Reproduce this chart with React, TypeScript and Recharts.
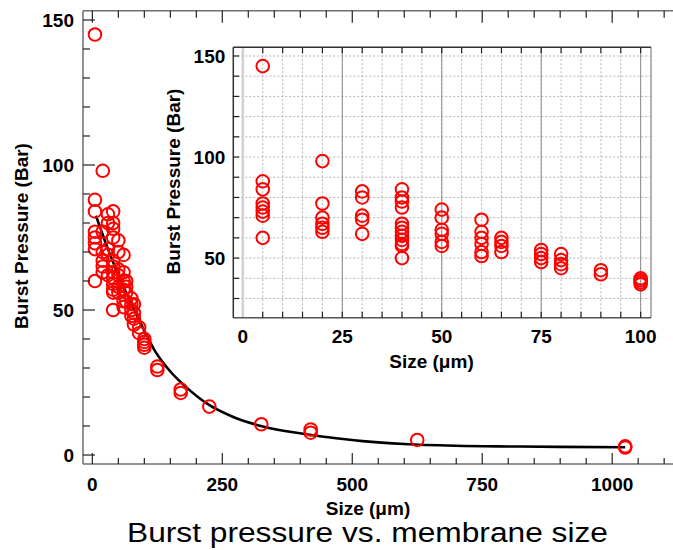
import React from 'react';
import {
  ComposedChart,
  ScatterChart,
  Scatter,
  Line,
  XAxis,
  YAxis,
  CartesianGrid,
  ReferenceLine,
} from 'recharts';

// ---------- data ----------
const pressureAt5 = [145, 88, 84, 77, 75, 73, 71, 60];
const pressureAt20 = [98, 77, 70, 67, 65, 63];
const pressureAt30 = [83, 80, 71, 69, 62];
const pressureAt40 = [84, 80, 78, 75, 67, 65, 63, 61, 59, 57, 56, 50];
const pressureAt50 = [74, 70, 64, 62, 58, 56];
const pressureAt60 = [69, 63, 60, 57, 53, 51];
const pressureAt65 = [60, 58, 56, 53];
const pressureAt75 = [54, 52, 50, 48];
const pressureAt80 = [52, 49, 47, 45];
const pressureAt90 = [44, 42];
const pressureAt100 = [40, 39, 38, 37];

const smallSizes = [5, 20, 30, 40, 50, 60, 65, 75, 80, 90, 100];
const smallPressures = [
  pressureAt5, pressureAt20, pressureAt30, pressureAt40, pressureAt50, pressureAt60,
  pressureAt65, pressureAt75, pressureAt80, pressureAt90, pressureAt100,
];

const largeSizes = [125, 125, 170, 170, 225, 325, 420, 420, 625, 1025, 1025];
const largePressures = [30.5, 29.3, 22.6, 21.4, 16.7, 10.6, 8.8, 7.7, 5.2, 3.0, 2.6];

const fitSizes = [7, 30, 60, 90, 120, 150, 180, 220, 270, 320, 380, 450, 520, 600, 700, 800, 900, 1025];
const fitPressures = [82.5, 71, 58, 46.5, 36, 28.8, 23.5, 17.8, 13.2, 10.2, 8, 6.2, 4.8, 3.8, 3.2, 2.95, 2.8, 2.7];

const mainXTicks = [0, 50, 100, 150, 200, 250, 300, 350, 400, 450, 500, 550, 600, 650, 700, 750, 800, 850, 900, 950, 1000, 1050, 1100];
const mainYTicks = [0, 10, 20, 30, 40, 50, 60, 70, 80, 90, 100, 110, 120, 130, 140, 150];
const insetXTicks = [0, 5, 10, 15, 20, 25, 30, 35, 40, 45, 50, 55, 60, 65, 70, 75, 80, 85, 90, 95, 100];
const insetYTicks = [30, 40, 50, 60, 70, 80, 90, 100, 110, 120, 130, 140, 150];
const insetMajorX = [25, 50, 75, 100];

// ---------- tables ----------
const smallPoints = smallSizes.flatMap((s, i) => smallPressures[i].map((p) => ({ x: s, y: p })));
const largePoints = largeSizes.map((s, i) => ({ x: s, y: largePressures[i] }));
const mainPoints = [...smallPoints, ...largePoints];
const fitPoints = fitSizes.map((s, i) => ({ x: s, y: fitPressures[i] }));

const FONT = "'Liberation Sans', Arial, Helvetica, sans-serif";
const RED = '#ff0000';

const Ring = (props: any) => {
  const { cx, cy } = props;
  if (cx == null || cy == null) return null;
  return <circle cx={cx} cy={cy} r={6.3} fill="none" stroke={RED} strokeWidth={2} />;
};

// ---------- tick renderers ----------
const MainBottomTick = (props: any) => {
  const { x, y, payload } = props;
  const v = payload.value;
  const major = v % 250 === 0;
  return (
    <g>
      <line x1={x} x2={x} y1={y} y2={y - (major ? 11 : 6)} stroke="#222" strokeWidth={1.2} />
      {major && (
        <text x={x} y={y + 26.5} textAnchor="middle" fontFamily={FONT} fontWeight="bold" fontSize={19} fill="#000">
          {v}
        </text>
      )}
    </g>
  );
};

const MainTopTick = (props: any) => {
  const { x, y, payload } = props;
  const v = payload.value;
  const major = v % 250 === 0;
  return <line x1={x} x2={x} y1={y} y2={y + (major ? 12 : 7)} stroke="#222" strokeWidth={1.2} />;
};

const MainLeftTick = (props: any) => {
  const { x, y, payload } = props;
  const v = payload.value;
  const major = v % 50 === 0;
  return (
    <g>
      <line x1={x} x2={x + (major ? 12 : 7)} y1={y} y2={y} stroke="#222" strokeWidth={1.2} />
      {major && (
        <text x={x - 9} y={y} dy="0.36em" textAnchor="end" fontFamily={FONT} fontWeight="bold" fontSize={19} fill="#000">
          {v}
        </text>
      )}
    </g>
  );
};

const InsetBottomTick = (props: any) => {
  const { x, y, payload } = props;
  const v = payload.value;
  const major = v % 25 === 0;
  return (
    <g>
      {v !== 0 && <line x1={x} x2={x} y1={y} y2={y - 6} stroke="#222" strokeWidth={1.2} />}
      {major && (
        <text x={x} y={y + 25.6} textAnchor="middle" fontFamily={FONT} fontWeight="bold" fontSize={19} fill="#000">
          {v}
        </text>
      )}
    </g>
  );
};

const InsetTopTick = (props: any) => {
  const { x, y, payload } = props;
  const v = payload.value;
  if (v === 0) return null;
  return <line x1={x} x2={x} y1={y} y2={y + 6} stroke="#222" strokeWidth={1.2} />;
};

const InsetLeftTick = (props: any) => {
  const { x, y, payload } = props;
  const v = payload.value;
  const major = v % 50 === 0;
  return (
    <g>
      <line x1={x} x2={x + 6} y1={y} y2={y} stroke="#222" strokeWidth={1.2} />
      {major && (
        <text x={x - 8} y={y} dy="0.36em" textAnchor="end" fontFamily={FONT} fontWeight="bold" fontSize={19} fill="#000">
          {v}
        </text>
      )}
    </g>
  );
};

const MAIN_X_DOMAIN: [number, number] = [-18, 1117];
const MAIN_Y_DOMAIN: [number, number] = [-3.1, 153.2];
const INSET_X_DOMAIN: [number, number] = [-2.4, 102.6];
const INSET_Y_DOMAIN: [number, number] = [20.5, 154.3];

export default function App() {
  return (
    <div style={{ position: 'absolute', left: 0, top: 0, width: 673, height: 550, overflow: 'hidden', background: '#fff' }}>
      {/* main chart */}
      <div style={{ position: 'absolute', left: 0, top: 0 }}>
        <ComposedChart width={673} height={550} margin={{ top: 9.7, right: 0, bottom: 46, left: 0 }}>
          <XAxis
            xAxisId="b"
            type="number"
            dataKey="x"
            domain={MAIN_X_DOMAIN}
            allowDataOverflow
            ticks={mainXTicks}
            interval={0}
            tickSize={0}
            tickMargin={0}
            tickLine={false}
            tick={MainBottomTick}
            axisLine={{ stroke: '#6e6e6e', strokeWidth: 1.5 }}
            height={40}
          />
          <XAxis
            xAxisId="t"
            orientation="top"
            type="number"
            dataKey="x"
            domain={MAIN_X_DOMAIN}
            allowDataOverflow
            ticks={mainXTicks}
            interval={0}
            tickSize={0}
            tickMargin={0}
            tickLine={false}
            tick={MainTopTick}
            axisLine={{ stroke: '#6e6e6e', strokeWidth: 1.5 }}
            height={1}
          />
          <YAxis
            type="number"
            dataKey="y"
            domain={MAIN_Y_DOMAIN}
            allowDataOverflow
            ticks={mainYTicks}
            interval={0}
            tickSize={0}
            tickMargin={0}
            tickLine={false}
            tick={MainLeftTick}
            axisLine={{ stroke: '#6e6e6e', strokeWidth: 1.5 }}
            width={83}
          />
          <Line
            xAxisId="t"
            data={fitPoints}
            dataKey="y"
            type="monotone"
            stroke="#000"
            strokeWidth={2.6}
            dot={false}
            activeDot={false}
            isAnimationActive={false}
          />
          <Scatter xAxisId="b" data={mainPoints} dataKey="y" shape={Ring} isAnimationActive={false} />
        </ComposedChart>
      </div>

      {/* inset chart */}
      <div style={{ position: 'absolute', left: 150, top: 30 }}>
        <ScatterChart width={510} height={350} margin={{ top: 16.3, right: 9, bottom: 22.3, left: 0 }}>
          <CartesianGrid stroke="#b4b4b4" strokeDasharray="2 2" fill="#fff" />
          <XAxis
            type="number"
            dataKey="x"
            domain={INSET_X_DOMAIN}
            allowDataOverflow
            ticks={insetXTicks}
            interval={0}
            tickSize={0}
            tickMargin={0}
            tickLine={false}
            tick={InsetBottomTick}
            axisLine={{ stroke: '#555', strokeWidth: 1.5 }}
            height={40}
          />
          <XAxis
            xAxisId="t"
            orientation="top"
            type="number"
            dataKey="x"
            domain={INSET_X_DOMAIN}
            allowDataOverflow
            ticks={insetXTicks}
            interval={0}
            tickSize={0}
            tickMargin={0}
            tickLine={false}
            tick={InsetTopTick}
            axisLine={{ stroke: '#333', strokeWidth: 1.5 }}
            height={1}
          />
          <YAxis
            type="number"
            dataKey="y"
            domain={INSET_Y_DOMAIN}
            allowDataOverflow
            ticks={insetYTicks}
            interval={0}
            tickSize={0}
            tickMargin={0}
            tickLine={false}
            tick={InsetLeftTick}
            axisLine={{ stroke: '#333', strokeWidth: 1.5 }}
            width={83.3}
          />
          <ReferenceLine x={0} stroke="#d0d0d0" strokeWidth={2.5} />
          {insetMajorX.map((v) => (
            <ReferenceLine key={v} x={v} stroke="#8c8c8c" strokeWidth={1} />
          ))}
          <ReferenceLine x={INSET_X_DOMAIN[1]} stroke="#a0a0a0" strokeWidth={1.5} />
          <Scatter data={smallPoints} dataKey="y" shape={Ring} isAnimationActive={false} />
        </ScatterChart>
      </div>

      {/* titles */}
      <svg
        width={673}
        height={550}
        style={{ position: 'absolute', left: 0, top: 0, pointerEvents: 'none' }}
      >
        <text
          transform="translate(21,236) rotate(-90)"
          textAnchor="middle"
          dy="0.36em"
          fontFamily={FONT}
          fontWeight="bold"
          fontSize={19}
          fill="#000"
        >
          Burst Pressure (Bar)
        </text>
        <text x={368} y={515} textAnchor="middle" fontFamily={FONT} fontWeight="bold" fontSize={19} fill="#000">
          Size (μm)
        </text>
        <text
          transform="translate(173,181.5) rotate(-90)"
          textAnchor="middle"
          dy="0.36em"
          fontFamily={FONT}
          fontWeight="bold"
          fontSize={19}
          fill="#000"
        >
          Burst Pressure (Bar)
        </text>
        <text x={431.5} y={368} textAnchor="middle" fontFamily={FONT} fontWeight="bold" fontSize={19} fill="#000">
          Size (μm)
        </text>
        <text
          x={367.5}
          y={541.7}
          textAnchor="middle"
          fontFamily={FONT}
          fontSize={27}
          fill="#000"
          textLength={481}
          lengthAdjust="spacingAndGlyphs"
        >
          Burst pressure vs. membrane size
        </text>
      </svg>
    </div>
  );
}
